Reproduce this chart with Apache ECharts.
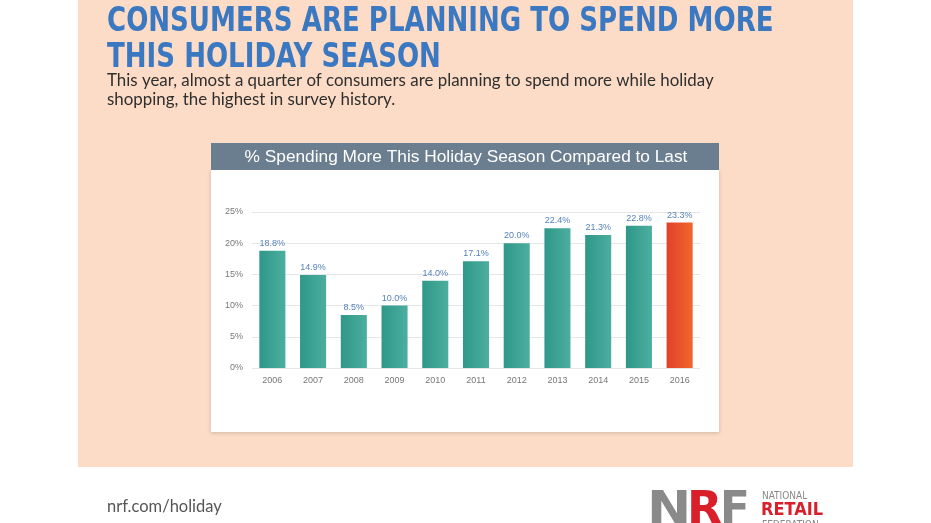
<!DOCTYPE html>
<html><head><meta charset="utf-8">
<script src="https://cdn.jsdelivr.net/npm/echarts@6/dist/echarts.min.js"></script>
<style>html,body{margin:0;padding:0;background:#fff}#c{width:931px;height:523px}</style>
</head><body><div id="c"></div>
<script>
const years = ['2006','2007','2008','2009','2010','2011','2012','2013','2014','2015','2016'];
const spendingMore = [18.8, 14.9, 8.5, 10.0, 14.0, 17.1, 20.0, 22.4, 21.3, 22.8, 23.3];
const yTicks = [0, 5, 10, 15, 20, 25];
const titleLines = ['CONSUMERS ARE PLANNING TO SPEND MORE', 'THIS HOLIDAY SEASON'];
const subtitleLines = ['This year, almost a quarter of consumers are planning to spend more while holiday', 'shopping, the highest in survey history.'];
const panelTitle = '% Spending More This Holiday Season Compared to Last';

const chart = echarts.init(document.getElementById('c'), null, {renderer:'canvas'});
const teal = new echarts.graphic.LinearGradient(0,0,1,0,[{offset:0,color:'#2f9888'},{offset:1,color:'#4cae9f'}]);
const red = new echarts.graphic.LinearGradient(0,0,1,0,[{offset:0,color:'#e2402a'},{offset:1,color:'#f0662c'}]);
chart.setOption({
  backgroundColor:'#ffffff',
  animation:false,
  graphic:[
    {type:'rect', z:-10, shape:{x:78,y:0,width:775,height:467}, style:{fill:'#fcdcc6'}},
    {type:'text', x:107, y:6, scaleX:0.878, style:{text:titleLines[0], font:'bold 33px "DejaVu Sans Condensed"', fill:'#3b78c2'}},
    {type:'text', x:107, y:42, scaleX:0.878, style:{text:titleLines[1], font:'bold 33px "DejaVu Sans Condensed"', fill:'#3b78c2'}},
    {type:'text', left:107, top:72, style:{text:subtitleLines[0], font:'16.9px "Lato"', fill:'#2f2f2f'}},
    {type:'text', left:107, top:91, style:{text:subtitleLines[1], font:'16.9px "Lato"', fill:'#2f2f2f'}},
    {type:'rect', z:-5, shape:{x:211,y:170,width:508,height:262}, style:{fill:'#ffffff', shadowBlur:4, shadowColor:'rgba(0,0,0,0.18)', shadowOffsetY:1}},
    {type:'rect', z:-4, shape:{x:211,y:143,width:508,height:27}, style:{fill:'#6b7e8f'}},
    {type:'text', x:466, y:157, z:5, style:{text:panelTitle, font:'17.3px "Liberation Sans"', fill:'#ffffff', align:'center', verticalAlign:'middle'}},
    {type:'text', left:107, top:498, style:{text:'nrf.com/holiday', font:'16.5px "Lato"', fill:'#555555'}},
    {type:'text', x:647, y:489, scaleX:1.15, style:{text:'N', font:'bold 46px "DejaVu Sans"', fill:'#8a8a8a'}},
    {type:'text', x:687, y:489, scaleX:1.0, style:{text:'R', font:'bold 46px "DejaVu Sans"', fill:'#d81f2a'}},
    {type:'text', x:720, y:489, scaleX:0.95, style:{text:'F', font:'bold 46px "DejaVu Sans"', fill:'#8a8a8a'}},
    {type:'text', left:762, top:491, style:{text:'NATIONAL', font:'10px "DejaVu Sans Condensed"', fill:'#888888'}},
    {type:'text', left:761, top:501, style:{text:'RETAIL', font:'bold 18px "DejaVu Sans Condensed"', fill:'#d81f2a'}},
    {type:'text', left:762, top:520, style:{text:'FEDERATION', font:'10px "DejaVu Sans Condensed"', fill:'#888888'}}
  ],
  grid:{left:252, right:231, top:212, bottom:155, containLabel:false},
  xAxis:{type:'category', data:years, axisLine:{show:false}, axisTick:{show:false},
    axisLabel:{color:'#777', fontSize:9, margin:8, fontFamily:'Liberation Sans'}},
  yAxis:{type:'value', min:0, max:25, interval:5,
    axisLabel:{color:'#777', fontSize:9, margin:9, fontFamily:'Liberation Sans', formatter:v=>yTicks.includes(v)?v+'%':''},
    splitLine:{lineStyle:{color:'#e6e6e6', width:1}}, axisLine:{show:false}, axisTick:{show:false}},
  series:[{type:'bar', barWidth:'64%',
    data:spendingMore.map((v,i)=>({value:v, itemStyle:{color: i===spendingMore.length-1 ? red : teal}})),
    label:{show:true, position:'top', distance:3, color:'#5582ba', fontSize:9, fontFamily:'Liberation Sans', formatter:p=>p.value.toFixed(1)+'%'}
  }]
});
</script></body></html>
